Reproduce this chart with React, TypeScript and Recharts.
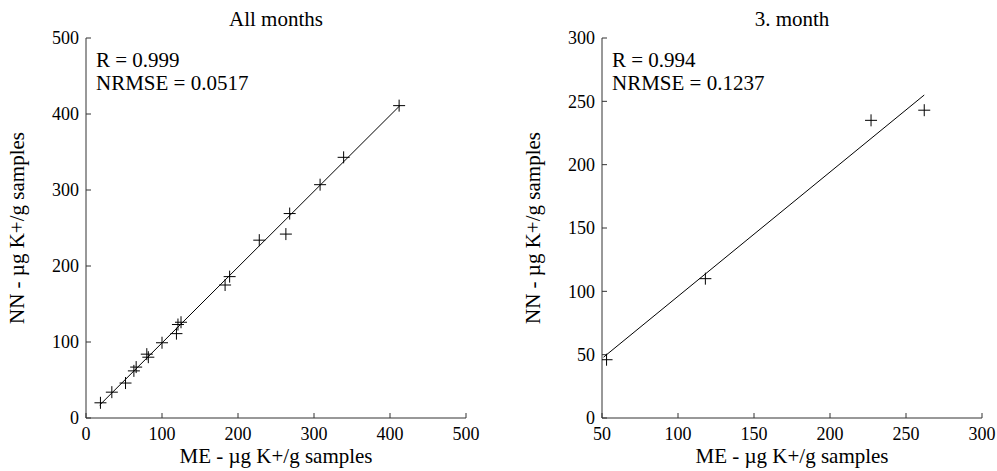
import React from 'react';
import { ScatterChart, Scatter, XAxis, YAxis, ReferenceLine } from 'recharts';

const FONT = "'Liberation Serif', 'Times New Roman', Times, serif";

// ---- All months panel ----
const allME = [19, 34, 52, 63, 66, 80, 82, 100, 119, 121, 125, 183, 189, 228, 263, 268, 308, 339, 412];
const allNN = [20, 34, 46, 62, 67, 84, 80, 99, 111, 123, 126, 175, 186, 234, 242, 269, 307, 343, 411];
const allFitX = [18, 413];
const allFitY = [17, 411];
const allTicks = [0, 100, 200, 300, 400, 500];

// ---- 3. month panel ----
const m3ME = [53, 118, 227, 262];
const m3NN = [46, 110, 235, 243];
const m3FitX = [51, 262];
const m3FitY = [48, 255];
const m3XTicks = [50, 100, 150, 200, 250, 300];
const m3YTicks = [0, 50, 100, 150, 200, 250, 300];

const Plus = (props: any) => {
  const { cx, cy } = props;
  if (cx == null || cy == null) return <g />;
  return (
    <g>
      <line x1={cx - 6} y1={cy} x2={cx + 6} y2={cy} stroke="#000" strokeWidth={1} />
      <line x1={cx} y1={cy - 6} x2={cx} y2={cy + 6} stroke="#000" strokeWidth={1} />
    </g>
  );
};

const Empty = () => <g />;

const txt = { fontFamily: FONT, fontSize: 21, fill: '#000' } as const;

type PanelProps = {
  width: number;
  yAxisWidth: number;
  marginRight: number;
  xs: number[];
  ys: number[];
  fitX: number[];
  fitY: number[];
  xTicks: number[];
  yTicks: number[];
  title: string;
  rText: string;
  nText: string;
};

const Panel = (p: PanelProps) => {
  const data = p.xs.map((x, i) => ({ x, y: p.ys[i] }));
  const xDom: [number, number] = [p.xTicks[0], p.xTicks[p.xTicks.length - 1]];
  const yDom: [number, number] = [p.yTicks[0], p.yTicks[p.yTicks.length - 1]];
  const plotLeft = p.yAxisWidth;
  const plotRight = p.width - p.marginRight;
  const cx = (plotLeft + plotRight) / 2;
  const tickStyle = { fill: '#000', fontSize: 18, fontFamily: FONT, style: { fontFamily: FONT } };
  return (
    <ScatterChart
      width={p.width}
      height={471}
      margin={{ top: 38, right: p.marginRight, bottom: 0, left: 0 }}
      style={{ fontFamily: FONT }}
    >
      <XAxis
        dataKey="x"
        type="number"
        domain={xDom}
        ticks={p.xTicks}
        allowDataOverflow
        height={53}
        tickSize={-5}
        tickMargin={14}
        stroke="#333"
        tick={tickStyle}
        interval={0}
      />
      <XAxis
        xAxisId={1}
        orientation="top"
        type="number"
        domain={xDom}
        ticks={p.xTicks}
        allowDataOverflow
        height={0}
        tickSize={-5}
        stroke="#333"
        tick={Empty}
        interval={0}
      />
      <YAxis
        dataKey="y"
        type="number"
        domain={yDom}
        ticks={p.yTicks}
        allowDataOverflow
        width={p.yAxisWidth}
        tickSize={-5}
        tickMargin={12}
        stroke="#333"
        tick={tickStyle}
        interval={0}
      />
      <YAxis
        yAxisId={1}
        orientation="right"
        type="number"
        domain={yDom}
        ticks={p.yTicks}
        allowDataOverflow
        width={0}
        tickSize={-5}
        stroke="#333"
        tick={Empty}
        interval={0}
      />
      <ReferenceLine
        segment={[
          { x: p.fitX[0], y: p.fitY[0] },
          { x: p.fitX[1], y: p.fitY[1] },
        ]}
        stroke="#000"
        strokeWidth={1}
        ifOverflow="visible"
      />
      <Scatter data={data} shape={Plus} isAnimationActive={false} />
      <text x={cx} y={26} textAnchor="middle" style={txt}>
        {p.title}
      </text>
      <text x={plotLeft + 10} y={67} style={txt}>
        {p.rText}
      </text>
      <text x={plotLeft + 10} y={90} style={txt}>
        {p.nText}
      </text>
      <text x={cx} y={463} textAnchor="middle" style={txt}>
        ME - µg K+/g samples
      </text>
      <text
        x={plotLeft - 62}
        y={228}
        textAnchor="middle"
        style={txt}
        transform={`rotate(-90 ${plotLeft - 62} 228)`}
      >
        NN - µg K+/g samples
      </text>
    </ScatterChart>
  );
};

export default function App() {
  return (
    <div
      style={{
        position: 'absolute',
        left: 0,
        top: 0,
        width: 997,
        height: 471,
        background: '#fff',
        fontFamily: FONT,
      }}
    >
      <div style={{ position: 'absolute', left: 0, top: 0 }}>
        <Panel
          width={490}
          yAxisWidth={86}
          marginRight={24}
          xs={allME}
          ys={allNN}
          fitX={allFitX}
          fitY={allFitY}
          xTicks={allTicks}
          yTicks={allTicks}
          title="All months"
          rText="R = 0.999"
          nText="NRMSE = 0.0517"
        />
      </div>
      <div style={{ position: 'absolute', left: 490, top: 0 }}>
        <Panel
          width={507}
          yAxisWidth={112}
          marginRight={15}
          xs={m3ME}
          ys={m3NN}
          fitX={m3FitX}
          fitY={m3FitY}
          xTicks={m3XTicks}
          yTicks={m3YTicks}
          title="3. month"
          rText="R = 0.994"
          nText="NRMSE = 0.1237"
        />
      </div>
    </div>
  );
}
